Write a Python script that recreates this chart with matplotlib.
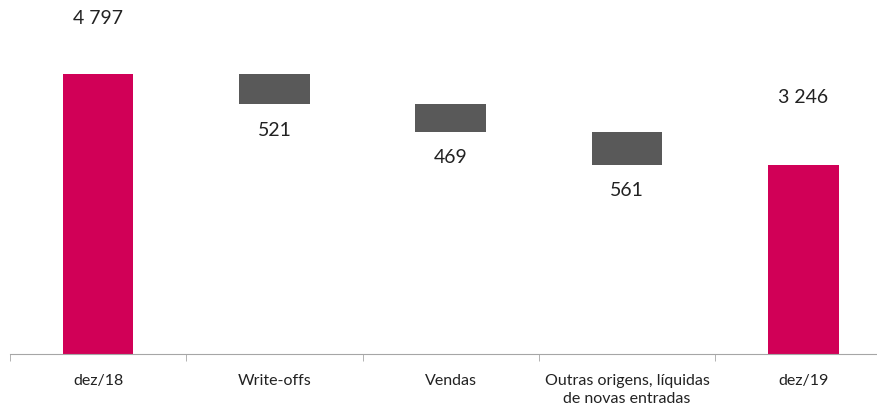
import matplotlib.pyplot as plt
import numpy as np

categories = ['dez/18', 'Write-offs', 'Vendas', 'Outras origens, líquidas\nde novas entradas', 'dez/19']
start_value = 4797
decreases = [521, 469, 561]
end_value = 3246

PINK = '#D10057'
GRAY = '#595959'

def fmt(v):
    return '{:,}'.format(v).replace(',', ' ')

def Waterfall():
    plt.rcParams['font.family'] = ['Lato', 'DejaVu Sans']
    fig = plt.figure(figsize=(8.78, 4.10), dpi=100)
    ax = fig.add_axes([10 / 878, 1 - 355 / 410, 1 - 10 / 878, 355 / 410])

    x = np.arange(len(categories))
    w = 0.4

    # totals
    ax.bar([x[0], x[-1]], [start_value, end_value], width=w, color=PINK)

    # floating decreases
    tops = start_value - np.concatenate([[0], np.cumsum(decreases)[:-1]])
    bottoms = tops - np.array(decreases)
    ax.bar(x[1:-1], decreases, bottom=bottoms, width=w, color=GRAY)

    # labels
    for xi, v, off in [(x[0], start_value, 41), (x[-1], end_value, 49)]:
        ax.annotate(fmt(v), (xi, v), xytext=(0, off), textcoords='offset points',
                    ha='center', va='center', fontsize=14, color='#222222')
    for xi, b, d in zip(x[1:-1], bottoms, decreases):
        ax.annotate(fmt(d), (xi, b), xytext=(0, -18), textcoords='offset points',
                    ha='center', va='center', fontsize=14, color='#222222')

    ax.set_xlim(-0.5, -0.5 + 868 / 176.3)
    ax.set_ylim(0, 355 / (280 / 4797))
    for s in ['top', 'right', 'left']:
        ax.spines[s].set_visible(False)
    ax.spines['bottom'].set_color('#A6A6A6')
    ax.set_yticks([])
    ax.set_xticks(x)
    ax.set_xticklabels(categories, fontsize=11.5, color='#222222', linespacing=1.35)
    ax.tick_params(axis='x', which='major', length=0, pad=14)
    ax.set_xticks(np.arange(len(categories)) - 0.5, minor=True)
    ax.tick_params(axis='x', which='minor', length=5, color='#A6A6A6')

    plt.savefig('out.png', dpi=100)
    return

Waterfall()
